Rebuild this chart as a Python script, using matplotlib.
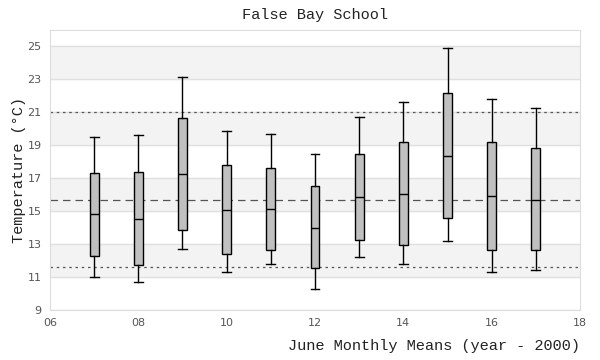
import matplotlib
matplotlib.use("Agg")
import matplotlib.pyplot as plt

years = [7, 8, 9, 10, 11, 12, 13, 14, 15, 16, 17]
whisk_lo = [10.98, 10.68, 12.68, 11.29, 11.77, 10.26, 12.20, 11.77, 13.17, 11.29, 11.41]
q1 = [12.26, 11.71, 13.84, 12.38, 12.62, 11.53, 13.23, 12.93, 14.56, 12.62, 12.62]
med = [14.81, 14.50, 17.23, 15.05, 15.11, 14.00, 15.86, 16.02, 18.34, 15.92, 15.70]
q3 = [17.29, 17.35, 20.63, 17.78, 17.60, 16.50, 18.45, 19.17, 22.15, 19.17, 18.81]
whisk_hi = [19.50, 19.60, 23.16, 19.88, 19.66, 18.45, 20.69, 21.60, 24.88, 21.78, 21.29]

upper_ref = 21.0
mean_ref = 15.67
lower_ref = 11.59

yticks = [9, 11, 13, 15, 17, 19, 21, 23, 25]
xticks = [6, 8, 10, 12, 14, 16, 18]

stats = []
for i in range(len(years)):
    stats.append({"whislo": whisk_lo[i], "q1": q1[i], "med": med[i],
                  "q3": q3[i], "whishi": whisk_hi[i], "fliers": []})

fig, ax = plt.subplots(figsize=(6, 3.6), dpi=100)
fig.subplots_adjust(left=0.0833, right=0.9667, top=0.9167, bottom=0.1389)

# alternating bands
for lo in [11, 15, 19, 23]:
    ax.axhspan(lo, lo + 2, color="#f3f3f3", zorder=0)
for y in yticks:
    ax.axhline(y, color="#e0e0e0", lw=1, zorder=0.5)

ax.axhline(upper_ref, color="#555555", lw=0.9, ls=(0, (2, 3)), zorder=1)
ax.axhline(lower_ref, color="#555555", lw=0.9, ls=(0, (2, 3)), zorder=1)
ax.axhline(mean_ref, color="#555555", lw=0.9, ls=(0, (6, 4)), zorder=1)

ax.bxp(stats, positions=years, widths=0.2, patch_artist=True, showfliers=False,
       boxprops=dict(facecolor="#c0c0c0", edgecolor="black", lw=1),
       medianprops=dict(color="black", lw=1),
       whiskerprops=dict(color="black", lw=1),
       capprops=dict(color="black", lw=1), capwidths=0.2, zorder=3)

ax.set_xlim(6, 18)
ax.set_ylim(9, 26)
ax.set_xticks(xticks)
ax.set_xticklabels(["%02d" % x for x in xticks])
ax.set_yticks(yticks)
ax.tick_params(length=0, labelsize=8, colors="#555555", pad=6)

for s in ax.spines.values():
    s.set_color("#dddddd")

mono = "Liberation Mono"
ax.set_title("False Bay School", fontfamily=mono, fontsize=11, color="#222222", pad=8)
ax.set_xlabel("June Monthly Means (year - 2000)", fontfamily=mono, fontsize=11,
              color="#222222", loc="right", labelpad=8)
ax.set_ylabel("Temperature (°C)", fontfamily=mono, fontsize=11, color="#222222", labelpad=1)

fig.savefig("out.png")
